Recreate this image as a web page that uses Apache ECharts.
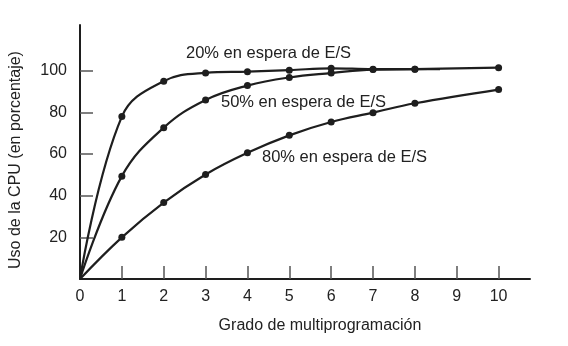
<!DOCTYPE html>
<html>
<head>
<meta charset="utf-8">
<script src="https://cdn.jsdelivr.net/npm/echarts@6/dist/echarts.min.js"></script>
<style>
  html, body { margin: 0; padding: 0; background: #fff; }
  #chart { width: 568px; height: 346px; }
</style>
</head>
<body>
<div id="chart"></div>
<script>
// Degree of multiprogramming (x) vs. CPU utilisation (%), one curve per I/O wait share.
const xTickValues = [1, 2, 3, 4, 5, 6, 7, 8, 9, 10];
const xLabelValues = [0, 1, 2, 3, 4, 5, 6, 7, 8, 9, 10];
const yTickValues = [20, 40, 60, 80, 100];

const seriesNames = ['20% en espera de E/S', '50% en espera de E/S', '80% en espera de E/S'];

// [grado, uso %]; the last point of the 20% curve is where the line stops (no marker)
const wait20 = [[0, 0], [1, 78], [2, 95], [3, 99], [4, 99.6], [5, 100.3], [6, 101.2], [7, 100.8], [8, 100.8], [8.6, 100.8]];
const wait50 = [[0, 0], [1, 49.4], [2, 72.7], [3, 86], [4, 92.9], [5, 96.8], [6, 98.9], [7, 100.6], [8, 100.8], [10, 101.5]];
const wait80 = [[0, 0], [1, 20], [2, 36.7], [3, 50.2], [4, 60.6], [5, 69], [6, 75.4], [7, 79.9], [8, 84.4], [10, 91]];

const FONT = '"Liberation Sans", Arial, Helvetica, sans-serif';
const INK = '#1e1e1e';

function curve(name, data, markerlessLast) {
  return {
    name: name,
    type: 'line',
    data: data.map(function (p, i) {
      const pt = { value: p };
      if (i === 0 || (markerlessLast && i === data.length - 1)) {
        pt.symbol = 'none';
      }
      return pt;
    }),
    smooth: 0.4,
    symbol: 'circle',
    symbolSize: 7,
    showAllSymbol: true,
    lineStyle: { color: INK, width: 2.2 },
    itemStyle: { color: INK },
    emphasis: { disabled: true },
    silent: true,
    animation: false
  };
}

const chart = echarts.init(document.getElementById('chart'), null, { renderer: 'canvas' });
chart.setOption({
  animation: false,
  backgroundColor: '#fff',
  grid: { left: 80, right: 38, top: 25, bottom: 67, containLabel: false },
  xAxis: {
    type: 'value',
    min: 0,
    max: 10.75,
    splitLine: { show: false },
    axisLine: { show: true, lineStyle: { color: INK, width: 2 } },
    axisTick: {
      show: true, inside: true, length: 13, customValues: xTickValues,
      lineStyle: { color: '#555', width: 1.5 }
    },
    axisLabel: {
      customValues: xLabelValues, margin: 10,
      color: '#222', fontSize: 16, fontFamily: FONT
    }
  },
  yAxis: {
    type: 'value',
    min: 0,
    max: 122,
    splitLine: { show: false },
    axisLine: { show: true, lineStyle: { color: INK, width: 2 } },
    axisTick: {
      show: true, inside: true, length: 13, customValues: yTickValues,
      lineStyle: { color: '#555', width: 1.5 }
    },
    axisLabel: {
      customValues: yTickValues, margin: 13,
      color: '#222', fontSize: 16, fontFamily: FONT
    }
  },
  series: [
    curve(seriesNames[0], wait20, true),
    curve(seriesNames[1], wait50, false),
    curve(seriesNames[2], wait80, false)
  ],
  graphic: [
    {
      type: 'text', x: 186, y: 53,
      style: { text: seriesNames[0], fill: '#222', font: '16.5px ' + FONT, verticalAlign: 'middle' }
    },
    {
      type: 'text', x: 221, y: 102.5,
      style: { text: seriesNames[1], fill: '#222', font: '16.5px ' + FONT, verticalAlign: 'middle' }
    },
    {
      type: 'text', x: 262, y: 157.5,
      style: { text: seriesNames[2], fill: '#222', font: '16.5px ' + FONT, verticalAlign: 'middle' }
    },
    {
      type: 'text', x: 320, y: 326,
      style: { text: 'Grado de multiprogramación', fill: '#222', font: '16px ' + FONT, align: 'center', verticalAlign: 'middle' }
    },
    {
      type: 'text', x: 16, y: 160, rotation: Math.PI / 2,
      style: { text: 'Uso de la CPU (en porcentaje)', fill: '#222', font: '16px ' + FONT, align: 'center', verticalAlign: 'middle' }
    }
  ]
});
</script>
</body>
</html>
